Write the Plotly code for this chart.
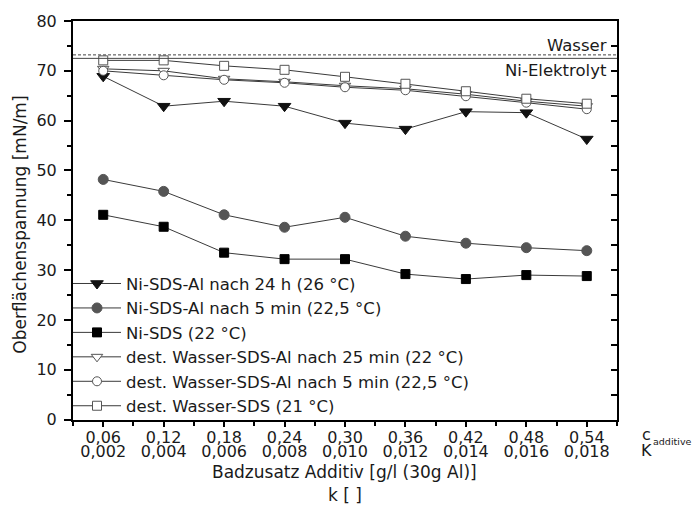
import plotly.graph_objects as go

# ---- data ----
c_additive = [0.06, 0.12, 0.18, 0.24, 0.30, 0.36, 0.42, 0.48, 0.54]
c_labels = ["0,06", "0,12", "0,18", "0,24", "0,30", "0,36", "0,42", "0,48", "0,54"]
k_labels = ["0,002", "0,004", "0,006", "0,008", "0,010", "0,012", "0,014", "0,016", "0,018"]

ni_sds_al_24h = [68.9, 62.9, 63.9, 62.9, 59.5, 58.3, 61.8, 61.6, 56.3]
ni_sds_al_5min = [48.2, 45.8, 41.1, 38.6, 40.6, 36.8, 35.4, 34.5, 33.9]
ni_sds = [41.1, 38.7, 33.5, 32.2, 32.2, 29.2, 28.2, 29.0, 28.8]
wasser_sds_al_25min = [70.4, 70.0, 68.4, 67.8, 67.0, 66.4, 65.3, 63.9, 62.9]
wasser_sds_al_5min = [70.0, 69.1, 68.2, 67.6, 66.7, 66.1, 64.9, 63.6, 62.3]
wasser_sds = [72.1, 72.1, 71.0, 70.2, 68.8, 67.4, 65.9, 64.4, 63.4]

wasser_ref = 73.2
ni_elektrolyt_ref = 72.5

FONT = "DejaVu Sans, Liberation Sans, Arial, sans-serif"
TXT = "#1a1a1a"
LINE = "#3a3a3a"

W, H = 693, 509
ML, MR, MT, MB = 73, 76, 16, 40
PH = H - MT - MB
y_dom0 = (H - MB - 419) / PH
x2_pos = (H - MB - 434) / PH


def py(pix):
    return (H - MB - pix) / PH


def px(pix):
    return (pix - ML) / (W - ML - MR)


fig = go.Figure()

series = [
    ("Ni-SDS-Al nach 24 h (26 °C)", ni_sds_al_24h, "triangle-down", 11, "#111111", "#111111"),
    ("Ni-SDS-Al nach 5 min (22,5 °C)", ni_sds_al_5min, "circle", 10, "#555555", "#555555"),
    ("Ni-SDS (22 °C)", ni_sds, "square", 9, "#000000", "#000000"),
    ("dest. Wasser-SDS-Al nach 25 min (22 °C)", wasser_sds_al_25min, "triangle-down", 10, "white", "#555555"),
    ("dest. Wasser-SDS-Al nach 5 min (22,5 °C)", wasser_sds_al_5min, "circle", 9, "white", "#555555"),
    ("dest. Wasser-SDS (21 °C)", wasser_sds, "square", 9, "white", "#555555"),
]

for name, vals, sym, size, fill, edge in series:
    fig.add_trace(go.Scatter(
        x=c_additive, y=vals, name=name, mode="lines+markers",
        line=dict(color=LINE, width=1),
        marker=dict(symbol=sym, size=size, color=fill,
                    line=dict(color=edge, width=1)),
    ))

# dummy traces to register the auxiliary axes
fig.add_trace(go.Scatter(x=[c_additive[0]], y=[None], xaxis="x2", yaxis="y",
                         showlegend=False, hoverinfo="skip", mode="none"))
fig.add_trace(go.Scatter(x=[c_additive[0]], y=[None], xaxis="x", yaxis="y2",
                         showlegend=False, hoverinfo="skip", mode="none"))

# reference lines
fig.add_shape(type="line", xref="paper", yref="y", x0=0, x1=1,
              y0=wasser_ref, y1=wasser_ref,
              line=dict(color="#444444", width=1, dash="3px,2px"))
fig.add_shape(type="line", xref="paper", yref="y", x0=0, x1=1,
              y0=ni_elektrolyt_ref, y1=ni_elektrolyt_ref,
              line=dict(color="#444444", width=1))

xr = [0.03, 0.57]
yr = [0, 80]

fig.update_layout(
    width=W, height=H,
    margin=dict(l=ML, r=MR, t=MT, b=MB),
    paper_bgcolor="white", plot_bgcolor="white",
    font=dict(family=FONT, size=16, color=TXT),
    showlegend=True,
    legend=dict(x=px(68), y=py(264), xanchor="left", yanchor="top",
                bgcolor="rgba(0,0,0,0)", borderwidth=0,
                font=dict(family=FONT, size=16.5, color=TXT),
                itemwidth=48, tracegroupgap=0),
    xaxis=dict(range=xr, tickmode="array", tickvals=c_additive, ticktext=c_labels,
               showline=True, linecolor="black", linewidth=2, mirror=True,
               ticks="outside", ticklen=5, tickwidth=1.5, tickcolor="black",
               ticklabelstandoff=-3,
               minor=dict(tick0=0.03, dtick=0.06, ticks="outside", ticklen=4,
                          tickwidth=1.5, tickcolor="black"),
               showgrid=False, zeroline=False, anchor="y",
               tickfont=dict(family=FONT, size=16, color=TXT)),
    xaxis2=dict(range=xr, overlaying="x", anchor="free", position=x2_pos,
                tickmode="array", tickvals=c_additive, ticktext=k_labels,
                showline=False, ticks="outside", ticklen=5,
                ticklabelstandoff=-3,
                tickcolor="rgba(0,0,0,0)", showgrid=False, zeroline=False,
                tickfont=dict(family=FONT, size=16, color=TXT)),
    yaxis=dict(range=yr, domain=[y_dom0, 1], dtick=10, tick0=0,
               showline=True, linecolor="black", linewidth=2, mirror=True,
               ticks="outside", ticklen=7, tickwidth=1.5, tickcolor="black",
               ticklabelstandoff=4,
               minor=dict(dtick=5, ticks="outside", ticklen=4, tickwidth=1.5,
                          tickcolor="black"),
               showgrid=False, zeroline=False, anchor="x",
               tickfont=dict(family=FONT, size=16, color=TXT)),
    yaxis2=dict(range=yr, overlaying="y", side="right", anchor="x",
                dtick=5, tick0=0, ticks="inside", ticklen=6, tickwidth=1.5,
                tickcolor="black", showticklabels=False, showline=False,
                showgrid=False, zeroline=False),
)

ann = [
    dict(text="Wasser", x=1, y=75, xref="paper", yref="y", xanchor="right",
         yanchor="middle", xshift=-8, showarrow=False,
         font=dict(family=FONT, size=16.5, color=TXT)),
    dict(text="Ni-Elektrolyt", x=1, y=70, xref="paper", yref="y", xanchor="right",
         yanchor="middle", xshift=-8, showarrow=False,
         font=dict(family=FONT, size=16.5, color=TXT)),
    dict(text="Oberflächenspannung [mN/m]", x=px(20), y=py(222), xref="paper",
         yref="paper", textangle=-90, showarrow=False, xanchor="center",
         yanchor="middle", font=dict(family=FONT, size=17, color=TXT)),
    dict(text="Badzusatz Additiv [g/l (30g Al)]", x=px(344), y=py(472),
         xref="paper", yref="paper", showarrow=False, xanchor="center",
         yanchor="middle", font=dict(family=FONT, size=17, color=TXT)),
    dict(text="k [ ]", x=px(345), y=py(495), xref="paper", yref="paper",
         showarrow=False, xanchor="center", yanchor="middle",
         font=dict(family=FONT, size=17, color=TXT)),
    dict(text="c", x=px(640), y=py(434), xref="paper", yref="paper",
         showarrow=False, xanchor="left", yanchor="middle",
         font=dict(family=FONT, size=16, color=TXT)),
    dict(text="K", x=px(639), y=py(450), xref="paper", yref="paper",
         showarrow=False, xanchor="left", yanchor="middle",
         font=dict(family=FONT, size=16, color=TXT)),
    dict(text="additive", x=px(651), y=py(441), xref="paper", yref="paper",
         showarrow=False, xanchor="left", yanchor="middle",
         font=dict(family=FONT, size=9.5, color=TXT)),
]
fig.update_layout(annotations=ann)

fig.write_html("out.html", config={"displayModeBar": False},
               post_script="document.body.style.margin='0';")
